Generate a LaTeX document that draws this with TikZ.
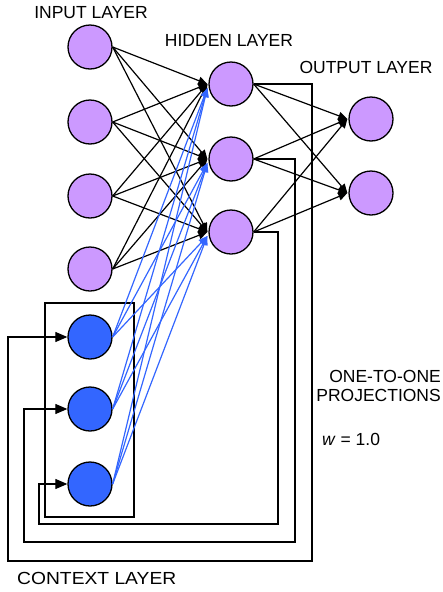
\documentclass[tikz,border=0pt]{standalone}
\usepackage{fontspec}
\setmainfont{Liberation Sans}
\usetikzlibrary{arrows.meta,calc}
\definecolor{lilac}{RGB}{204,153,255}
\definecolor{ctxblue}{RGB}{51,102,255}
\begin{document}
\begin{tikzpicture}[x=1pt,y=-1pt,
  neuron/.style={circle,draw=black,line width=1.3pt,minimum size=44pt,inner sep=0pt,fill=lilac},
  ctxneuron/.style={neuron,fill=ctxblue},
  wire/.style={line width=1.2pt,-{Triangle[length=9pt,width=8pt]}},
  bluewire/.style={line width=1.2pt,draw=ctxblue,-{Triangle[length=9pt,width=7pt]}},
  loopwire/.style={line width=1.2pt,-{Triangle[length=12pt,width=10pt]}},
  lbl/.style={font=\fontsize{17.5}{19}\selectfont,inner sep=0pt}]
\useasboundingbox (0,0) rectangle (442,592);
% nodes
\node[neuron] (i1) at (90,47) {};
\node[neuron] (i2) at (90,122) {};
\node[neuron] (i3) at (90,196) {};
\node[neuron] (i4) at (90,269) {};
\node[neuron] (h1) at (231,84) {};
\node[neuron] (h2) at (231,159) {};
\node[neuron] (h3) at (231,232) {};
\node[neuron] (o1) at (371,119) {};
\node[neuron] (o2) at (371,193) {};
\node[ctxneuron] (c1) at (90,337) {};
\node[ctxneuron] (c2) at (90,409) {};
\node[ctxneuron] (c3) at (90,484) {};
\node[draw,line width=1.2pt,minimum width=89pt,minimum height=214pt,inner sep=0pt] (box) at (89.5,410) {};
% labels
\node[lbl] (linput) at (91,13) {INPUT LAYER};
\node[lbl] (lhidden) at (229,40) {HIDDEN LAYER};
\node[lbl] (loutput) at (366,67) {OUTPUT LAYER};
\node[lbl,anchor=east,align=right] (lproj) at (441,386) {ONE-TO-ONE\\PROJECTIONS};
\node[lbl,anchor=west] (lw) at (322,439) {\textit{w} = 1.0};
\node[lbl,anchor=west,xscale=1.1] (lctx) at (17,578) {CONTEXT LAYER};
% input -> hidden
\foreach \i in {1,...,4}{
  \foreach \h in {1,2,3}{
    \draw[wire] (i\i.east) -- ($(h\h.west)+(-1,0)$);
  }
}
% context -> hidden
\foreach \c in {1,2,3}{
  \foreach \h in {1,2,3}{
    \draw[bluewire] (c\c.east) -- ($(h\h.west)+(-1,4)$);
  }
}
% hidden -> output
\foreach \h in {1,2,3}{
  \foreach \o in {1,2}{
    \draw[wire] (h\h.east) -- ($(o\o.west)+(-1,0)$);
  }
}
% feedback loops
\draw[loopwire] (h1.east) -- (312,84) -- (312,561) -- (8,561) -- (8,337) -- (c1.west);
\draw[loopwire] (h2.east) -- (295,159) -- (295,542) -- (24,542) -- (24,409) -- (c2.west);
\draw[loopwire] (h3.east) -- (278,232) -- (278,524) -- (39,524) -- (39,484) -- (c3.west);
\end{tikzpicture}
\end{document}
